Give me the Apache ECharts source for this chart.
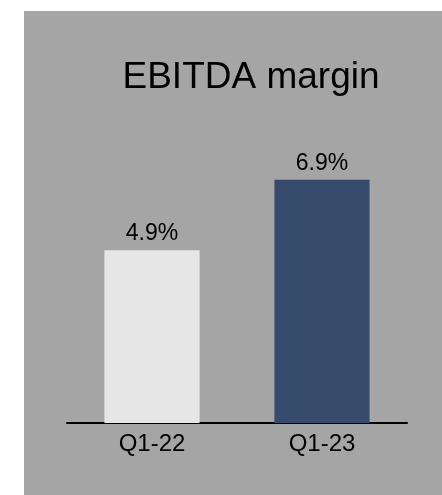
<!DOCTYPE html>
<html>
<head>
<meta charset="utf-8">
<script src="https://cdn.jsdelivr.net/npm/echarts@6/dist/echarts.min.js"></script>
<style>
html,body{margin:0;padding:0;background:#fff;}
#c{width:442px;height:495px;}
</style>
</head>
<body>
<div id="c"></div>
<script>
const categories = ['Q1-22', 'Q1-23'];
const marginValues = [4.9, 6.9];
const barColors = ['#e6e6e6', '#364a6b'];
const titleText = 'EBITDA margin';

const chart = echarts.init(document.getElementById('c'), null, {renderer: 'canvas'});
chart.setOption({
  animation: false,
  backgroundColor: '#ffffff',
  graphic: [{
    type: 'rect', z: -10, silent: true,
    shape: {x: 24, y: 11, width: 418, height: 484},
    style: {fill: '#a5a5a5'}
  }],
  title: {
    text: titleText,
    left: 246, top: 54, textAlign: 'center',
    textStyle: {fontFamily: 'Liberation Sans', fontSize: 37, fontWeight: 'normal', color: '#000'}
  },
  grid: {left: 67, right: 35, top: 141, bottom: 72},
  xAxis: {
    type: 'category', data: categories,
    axisLine: {lineStyle: {color: '#000', width: 2}},
    axisTick: {show: false},
    axisLabel: {fontFamily: 'Liberation Sans', fontSize: 24, color: '#000', margin: 9}
  },
  yAxis: {
    type: 'value', min: 0, max: 8, show: false, splitLine: {show: false}
  },
  series: [{
    type: 'bar',
    data: marginValues.map((v, i) => ({value: v, itemStyle: {color: barColors[i]}})),
    barWidth: '56%',
    label: {
      show: true, position: 'top', distance: 5,
      formatter: p => p.value.toFixed(1) + '%',
      fontFamily: 'Liberation Sans', fontSize: 23, color: '#000'
    }
  }]
});
</script>
</body>
</html>
